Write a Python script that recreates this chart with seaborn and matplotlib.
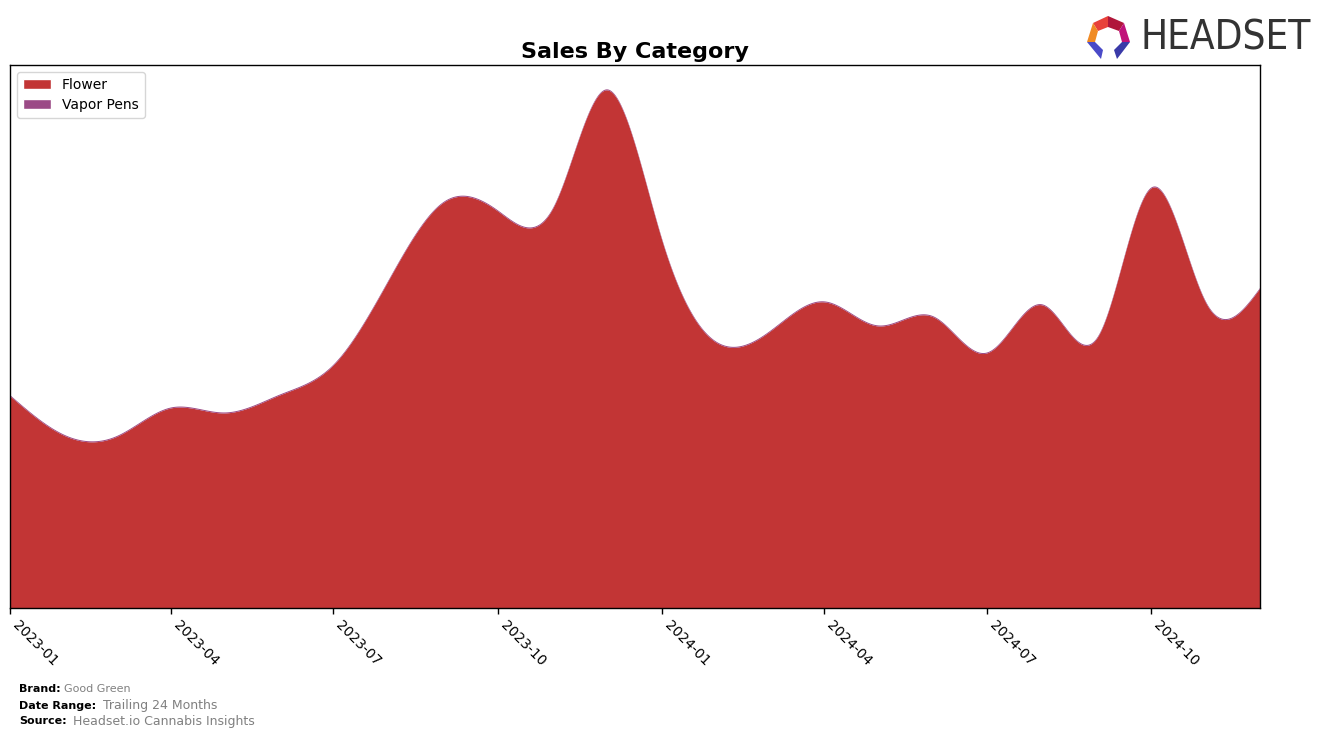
import numpy as np
import pandas as pd
import matplotlib
matplotlib.use("Agg")
import matplotlib.pyplot as plt
import matplotlib.dates as mdates
from matplotlib.patches import Patch, Polygon
import seaborn as sns

# ---- data (monthly, arbitrary sales units) ----
months = pd.date_range("2023-01-01", "2024-12-01", freq="MS")
flower = [212, 172, 171, 200, 195, 213, 243, 328, 406, 397, 400, 518,
          368, 265, 276, 306, 282, 291, 255, 303, 271, 420, 304, 320]
vapor_pens = [1.0] * 24
categories = ["Flower", "Vapor Pens"]
colors = ["#c23535", "#9b4a86"]
tick_months = ["2023-01", "2023-04", "2023-07", "2023-10",
               "2024-01", "2024-04", "2024-07", "2024-10"]

sns.set_theme(style="white")
plt.rcParams["font.family"] = ["DejaVu Sans"]
plt.rcParams["text.color"] = "black"
plt.rcParams["xtick.color"] = "black"
plt.rcParams["axes.labelcolor"] = "black"


def natural_cubic(x, y, xs):
    x = np.asarray(x, float)
    y = np.asarray(y, float)
    n = len(x)
    h = np.diff(x)
    A = np.zeros((n, n))
    b = np.zeros(n)
    A[0, 0] = 1
    A[-1, -1] = 1
    for i in range(1, n - 1):
        A[i, i - 1] = h[i - 1]
        A[i, i] = 2 * (h[i - 1] + h[i])
        A[i, i + 1] = h[i]
        b[i] = 3 * ((y[i + 1] - y[i]) / h[i] - (y[i] - y[i - 1]) / h[i - 1])
    c = np.linalg.solve(A, b)
    out = np.empty_like(xs, dtype=float)
    idx = np.clip(np.searchsorted(x, xs) - 1, 0, n - 2)
    for k, (xv, i) in enumerate(zip(xs, idx)):
        bi = (y[i + 1] - y[i]) / h[i] - h[i] * (2 * c[i] + c[i + 1]) / 3
        di = (c[i + 1] - c[i]) / (3 * h[i])
        t = xv - x[i]
        out[k] = y[i] + bi * t + c[i] * t ** 2 + di * t ** 3
    return out


xnum = mdates.date2num(months.to_pydatetime())
xs = np.linspace(xnum[0], xnum[-1], 1500)
f_s = np.clip(natural_cubic(xnum, flower, xs), 0, None)
v_s = np.clip(natural_cubic(xnum, vapor_pens, xs), 0, None)

fig = plt.figure(figsize=(13.24, 7.38), dpi=100)
ax = fig.add_axes([10 / 1324, 1 - 608 / 738, 1250 / 1324, 543 / 738])

ax.fill_between(xs, 0, f_s, color=colors[0], linewidth=0)
ax.fill_between(xs, f_s, f_s + v_s, color=colors[1], linewidth=0)

ax.set_xlim(xnum[0], xnum[-1])
ax.set_ylim(0, 518 * 1.048)
ax.set_yticks([])
ticks = mdates.date2num(pd.to_datetime(tick_months).to_pydatetime())
ax.set_xticks(ticks)
ax.set_xticklabels(tick_months, rotation=-45, ha="left", fontsize=10)
ax.tick_params(axis="x", bottom=True, length=4, width=1, color="black", pad=3)
for s in ax.spines.values():
    s.set_color("black")
    s.set_linewidth(1)

ax.set_title("Sales By Category", fontsize=16, fontweight="bold", pad=5,
             color="black")

handles = [Patch(facecolor=c, label=l) for c, l in zip(colors, categories)]
ax.legend(handles=handles, loc="upper left", fontsize=10, frameon=True,
          handlelength=2, borderpad=0.45, labelspacing=0.4,
          bbox_to_anchor=(0.0, 1.0))

# footer
fig.text(19 / 1324, 1 - 689 / 738, "Brand:", fontsize=8, fontweight="bold", va="center")
fig.text(64 / 1324, 1 - 689 / 738, "Good Green", fontsize=8, color="gray", va="center")
fig.text(19 / 1324, 1 - 706 / 738, "Date Range:", fontsize=8, fontweight="bold", va="center")
fig.text(103 / 1324, 1 - 706 / 738, "Trailing 24 Months", fontsize=9, color="gray", va="center")
fig.text(19 / 1324, 1 - 721 / 738, "Source:", fontsize=8, fontweight="bold", va="center")
fig.text(73 / 1324, 1 - 721 / 738, "Headset.io Cannabis Insights", fontsize=9, color="gray", va="center")

# logo
fig.text(1140 / 1324, 1 - 38 / 738, "HEADSET", fontsize=29, color="#333333",
         va="center", ha="left", family="DejaVu Sans", stretch="condensed")
def P(pts, c):
    fig.patches.append(Polygon([(x / 1324, 1 - y / 738) for x, y in pts],
                               closed=True, transform=fig.transFigure,
                               facecolor=c, edgecolor="none"))
P([(1093, 23), (1108, 16), (1108, 27), (1098, 31)], "#e8413a")
P([(1108, 16), (1124, 23), (1119, 31), (1108, 27)], "#b0163a")
P([(1124, 23), (1130, 42), (1122, 42), (1119, 31)], "#c0127a")
P([(1093, 23), (1098, 31), (1095, 42), (1087, 42)], "#f08a24")
P([(1087, 42), (1095, 42), (1103, 50), (1101, 59)], "#4a4ac8")
P([(1130, 42), (1122, 42), (1114, 50), (1117, 59)], "#3a3aa8")

fig.savefig("out.png", dpi=100)
